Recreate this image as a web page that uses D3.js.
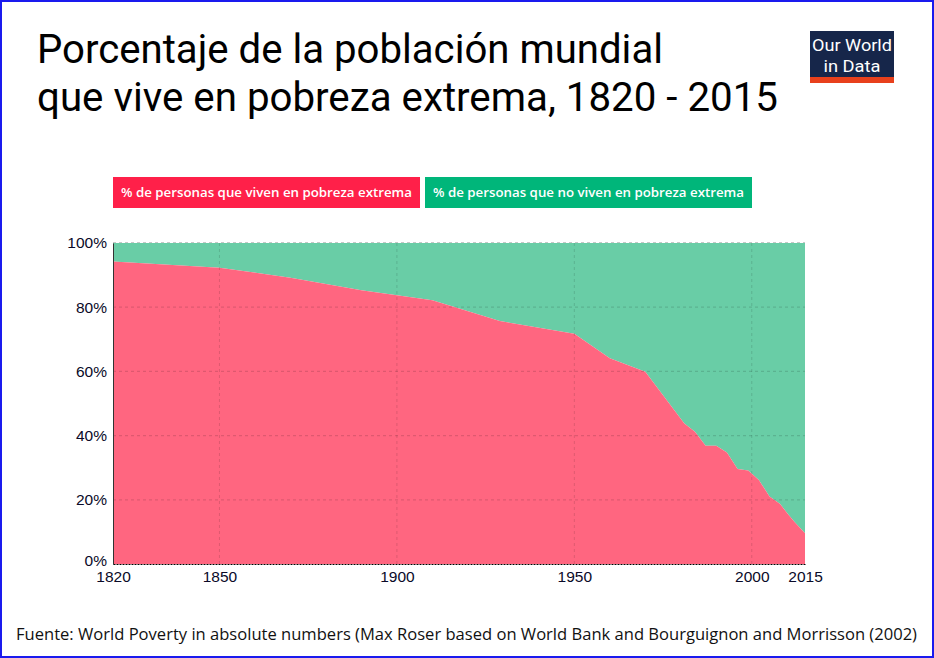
<!DOCTYPE html>
<html><head><meta charset="utf-8">
<script src="https://cdn.jsdelivr.net/npm/d3@7"></script>
<style>
html,body{margin:0;padding:0;background:#fff;}
svg{display:block;}
</style></head>
<body>
<svg id="chart" width="934" height="658"></svg>
<script>
// ---- data ----
const years   = [1820, 1850, 1870, 1890, 1910, 1929, 1950, 1960, 1970, 1981, 1984, 1987, 1990, 1993, 1996, 1999, 2002, 2005, 2008, 2010, 2012, 2015];
const poverty = [94.2, 92.3, 89.2, 85.3, 82.2, 75.7, 71.7, 64.1, 59.9, 43.8, 41.2, 36.8, 36.8, 34.7, 29.6, 29.1, 26.2, 21.0, 18.7, 15.8, 13.2, 9.6];
const notPoverty = poverty.map(v => 100 - v);
const xTicks = [1820, 1850, 1900, 1950, 2000, 2015];
const yTicks = [0, 20, 40, 60, 80, 100];
const seriesNames = ["% de personas que viven en pobreza extrema", "% de personas que no viven en pobreza extrema"];
const titleLines = ["Porcentaje de la población mundial", "que vive en pobreza extrema, 1820 - 2015"];
const sourceText = "Fuente: World Poverty in absolute numbers (Max Roser based on World Bank and Bourguignon and Morrisson (2002)";

const rows = years.map((y, i) => ({year: y, pov: poverty[i], notpov: notPoverty[i]}));

const svg = d3.select("#chart");
const W = 934, H = 658;
const m = {left: 113, right: 934 - 805, top: 243, bottom: 658 - 564};

// border
svg.append("rect").attr("x", 1).attr("y", 1).attr("width", W - 2).attr("height", H - 2)
  .attr("fill", "none").attr("stroke", "#1a1aee").attr("stroke-width", 2);

// title
titleLines.forEach((t, i) => {
  svg.append("text").attr("x", 37).attr("y", 63 + i * 48)
    .attr("font-family", "Roboto, 'Open Sans', sans-serif").attr("font-size", 40)
    .attr("fill", "#000")
    .attr("textLength", i === 0 ? 626 : 741).attr("lengthAdjust", "spacingAndGlyphs")
    .text(t);
});

// logo
const logo = svg.append("g");
logo.append("rect").attr("x", 810).attr("y", 31).attr("width", 84).attr("height", 52).attr("fill", "#16264a");
logo.append("rect").attr("x", 810).attr("y", 77).attr("width", 84).attr("height", 6).attr("fill", "#e8401c");
logo.append("text").attr("x", 852).attr("y", 51).attr("text-anchor", "middle")
  .attr("font-family", "Roboto, sans-serif").attr("font-size", 17).attr("fill", "#fff")
  .attr("textLength", 80).attr("lengthAdjust", "spacingAndGlyphs").text("Our World");
logo.append("text").attr("x", 852).attr("y", 72).attr("text-anchor", "middle")
  .attr("font-family", "Roboto, sans-serif").attr("font-size", 17).attr("fill", "#fff")
  .attr("textLength", 57).attr("lengthAdjust", "spacingAndGlyphs").text("in Data");

// legend
const legendColors = ["#ff2049", "#00b67a"];
const legendBoxes = [{x: 113, w: 307}, {x: 425, w: 327}];
seriesNames.forEach((n, i) => {
  const b = legendBoxes[i];
  svg.append("rect").attr("x", b.x).attr("y", 177).attr("width", b.w).attr("height", 31).attr("fill", legendColors[i]);
  svg.append("text").attr("x", b.x + b.w / 2).attr("y", 197).attr("text-anchor", "middle")
    .attr("font-family", "'Open Sans', sans-serif").attr("font-size", 13).attr("font-weight", 600)
    .attr("fill", "#fff").attr("textLength", b.w - 16).attr("lengthAdjust", "spacingAndGlyphs").text(n);
});

// scales
const x = d3.scaleLinear().domain([1820, 2015]).range([m.left, W - m.right]);
const y = d3.scaleLinear().domain([0, 100]).range([H - m.bottom, m.top]);

// areas
const areaPov = d3.area().x(d => x(d.year)).y0(y(0)).y1(d => y(d.pov));
const areaNot = d3.area().x(d => x(d.year)).y0(d => y(d.pov)).y1(d => y(d.pov + d.notpov));
svg.append("path").datum(rows).attr("d", areaNot).attr("fill", "#69cda6");
svg.append("path").datum(rows).attr("d", areaPov).attr("fill", "#ff6680");

// grid
const grid = svg.append("g");
yTicks.filter(v => v > 0 && v < 100).forEach(v => {
  grid.append("line").attr("x1", x(1820)).attr("x2", x(2015)).attr("y1", y(v)).attr("y2", y(v))
    .attr("stroke", "rgba(0,0,0,0.13)").attr("stroke-width", 1.2).attr("stroke-dasharray", "3,3");
});
grid.append("line").attr("x1", x(1820)).attr("x2", x(2015)).attr("y1", y(100) - 0.5).attr("y2", y(100) - 0.5)
  .attr("stroke", "rgba(0,0,0,0.22)").attr("stroke-width", 1.2).attr("stroke-dasharray", "3,3");
xTicks.filter(v => v > 1820 && v < 2015).forEach(v => {
  grid.append("line").attr("x1", x(v)).attr("x2", x(v)).attr("y1", y(0)).attr("y2", y(100))
    .attr("stroke", "rgba(0,0,0,0.13)").attr("stroke-width", 1).attr("stroke-dasharray", "3,3");
});

// axes
const yAxis = svg.append("g").attr("transform", `translate(${m.left},0)`)
  .call(d3.axisLeft(y).tickValues(yTicks).tickFormat(d => d + "%").tickSize(0).tickPadding(6));
yAxis.select(".domain").attr("stroke", "#333").attr("stroke-width", 1);
yAxis.selectAll("text").attr("font-family", "'Liberation Sans', Arial, sans-serif").attr("font-size", 15.5).attr("fill", "#0a0a28");
yAxis.selectAll(".tick").filter(d => d === 0).select("text").attr("dy", "0.1em");

const xAxis = svg.append("g").attr("transform", `translate(0,${y(0)})`)
  .call(d3.axisBottom(x).tickValues(xTicks).tickFormat(d3.format("d")).tickSize(0).tickPadding(7));
xAxis.select(".domain").attr("stroke", "#000").attr("stroke-width", 1.2).attr("stroke-dasharray", "2,1");
xAxis.selectAll("text").attr("font-family", "'Liberation Sans', Arial, sans-serif").attr("font-size", 15.5).attr("fill", "#0a0a28");

// source
svg.append("text").attr("x", 16).attr("y", 640)
  .attr("font-family", "'Open Sans', sans-serif").attr("font-size", 15.5).attr("fill", "#111")
  .attr("textLength", 901).attr("lengthAdjust", "spacingAndGlyphs").text(sourceText);
</script>
</body></html>
